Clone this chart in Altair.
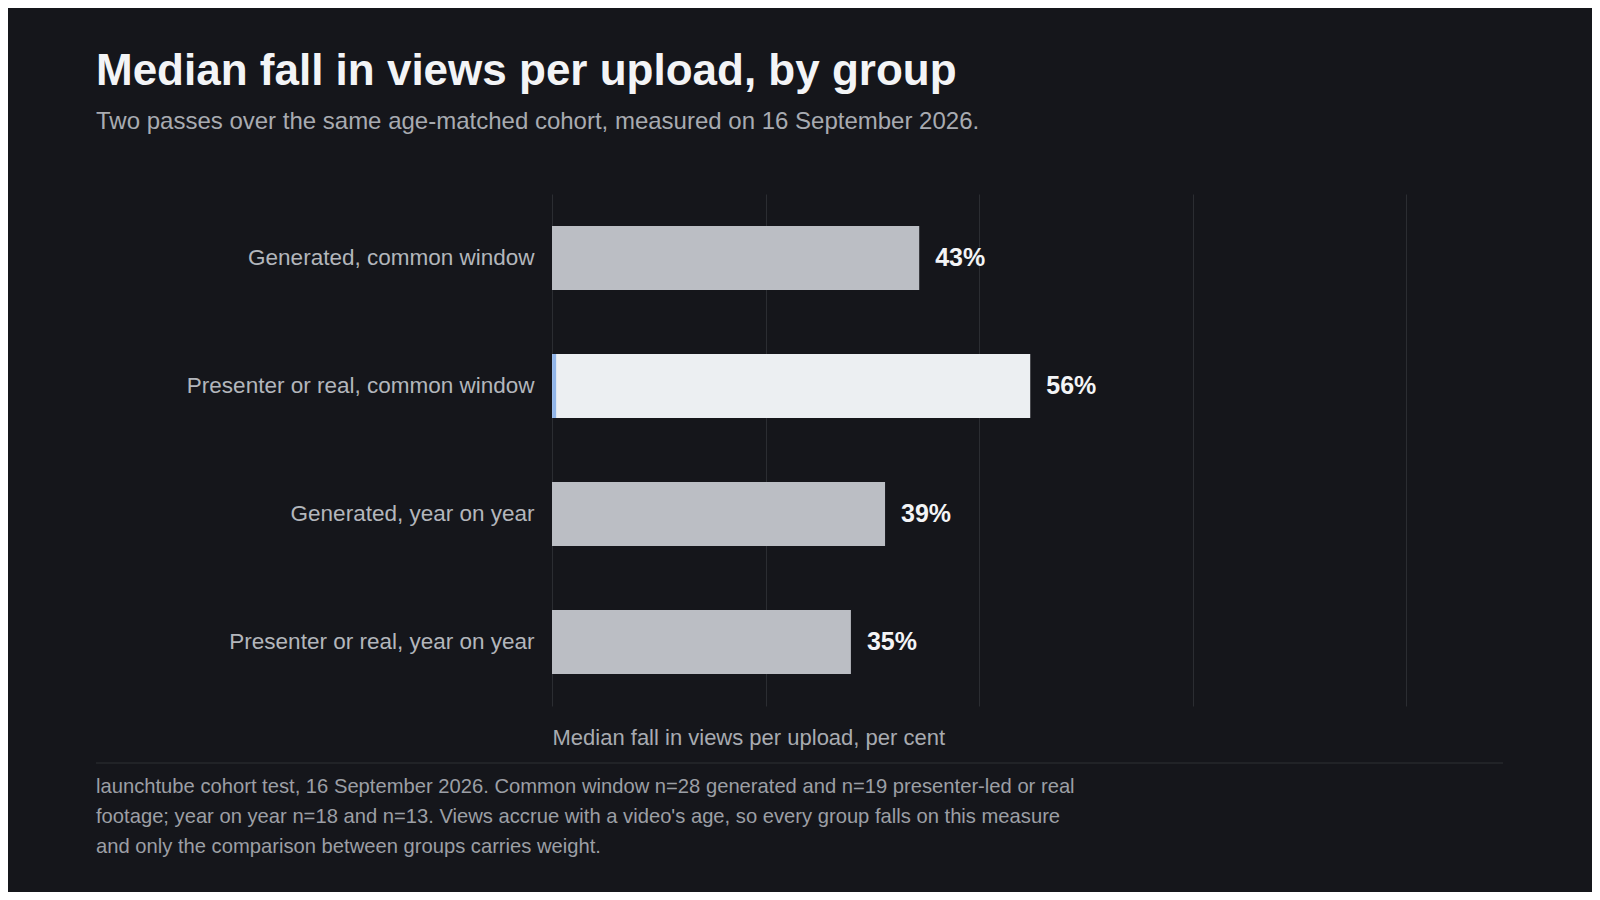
import altair as alt
import pandas as pd

categories = [
    "Generated, common window",
    "Presenter or real, common window",
    "Generated, year on year",
    "Presenter or real, year on year",
]
values = [43, 56, 39, 35]
highlight = [False, True, False, False]
value_labels = ["43%", "56%", "39%", "35%"]

title_text = "Median fall in views per upload, by group"
subtitle_text = "Two passes over the same age-matched cohort, measured on 16 September 2026."
x_title = "Median fall in views per upload, per cent"
footer_lines = [
    "launchtube cohort test, 16 September 2026. Common window n=28 generated and n=19 presenter-led or real",
    "footage; year on year n=18 and n=13. Views accrue with a video's age, so every group falls on this measure",
    "and only the comparison between groups carries weight.",
]

df = pd.DataFrame({
    "group": categories,
    "value": values,
    "hl": highlight,
    "label": value_labels,
})

FONT = "Liberation Sans"
BG = "#15161b"

y_enc = alt.Y(
    "group:N",
    sort=categories,
    scale=alt.Scale(paddingInner=0.5, paddingOuter=0.25),
    axis=alt.Axis(
        title=None, ticks=False, domain=False, grid=False,
        labelFont=FONT, labelFontSize=22.5, labelColor="#b3b6bc",
        labelPadding=18, labelLimit=500,
    ),
)
x_enc = alt.X(
    "value:Q",
    scale=alt.Scale(domain=[0, 100]),
    axis=alt.Axis(
        values=[0, 25, 50, 75, 100], labels=False, ticks=False, domain=False,
        grid=True, gridColor="#2b2d32", gridWidth=1,
        title=x_title, titleFont=FONT, titleFontSize=22, titleFontWeight="normal",
        titleColor="#a8abb1", titleAnchor="start", titlePadding=21,
    ),
)

base = alt.Chart(df)

bars = base.mark_bar().encode(
    x=x_enc,
    y=y_enc,
    color=alt.Color("hl:N", scale=alt.Scale(domain=[False, True], range=["#bbbec4", "#eceff2"]), legend=None),
)

accent = base.transform_filter("datum.hl").mark_tick(
    color="#6b9ce6", thickness=4, orient="vertical", size=64
).encode(
    x=alt.datum(0.25),
    y=alt.Y("group:N", sort=categories),
)

labels = base.mark_text(
    align="left", baseline="middle", dx=16, font=FONT, fontSize=25,
    fontWeight="bold", color="#f3f4f6",
).encode(
    x="value:Q",
    y=alt.Y("group:N", sort=categories),
    text="label:N",
)

rule_df = pd.DataFrame({"k": [1]})
footer_rule = alt.Chart(rule_df).mark_rule(color="#2e3035", strokeWidth=1).encode(
    x=alt.value(-456), x2=alt.value(951), y=alt.value(569)
)

footer_layers = []
for i, line in enumerate(footer_lines):
    footer_layers.append(
        alt.Chart(rule_df).mark_text(
            align="left", baseline="middle", font=FONT, fontSize=20.2, color="#9c9fa5",
            text=line,
        ).encode(x=alt.value(-456), y=alt.value(593 + 30 * i))
    )

chart = alt.layer(bars, accent, labels, footer_rule, *footer_layers).properties(
    width=854,
    height=512,
    background=BG,
    padding={"left": 544, "top": 186, "right": 186, "bottom": 186},
    autosize=alt.AutoSizeParams(type="none"),
    title=alt.TitleParams(
        text=title_text,
        subtitle=subtitle_text,
        anchor="start",
        frame="group",
        dx=-456,
        offset=60,
        font=FONT,
        fontSize=44,
        fontWeight="bold",
        color="#f3f4f6",
        subtitleFont=FONT,
        subtitleFontSize=24,
        subtitleColor="#a8abb1",
        subtitlePadding=16,
    ),
).configure_view(stroke=None)

chart.save("out.html", embed_options={"renderer": "svg", "actions": False})
